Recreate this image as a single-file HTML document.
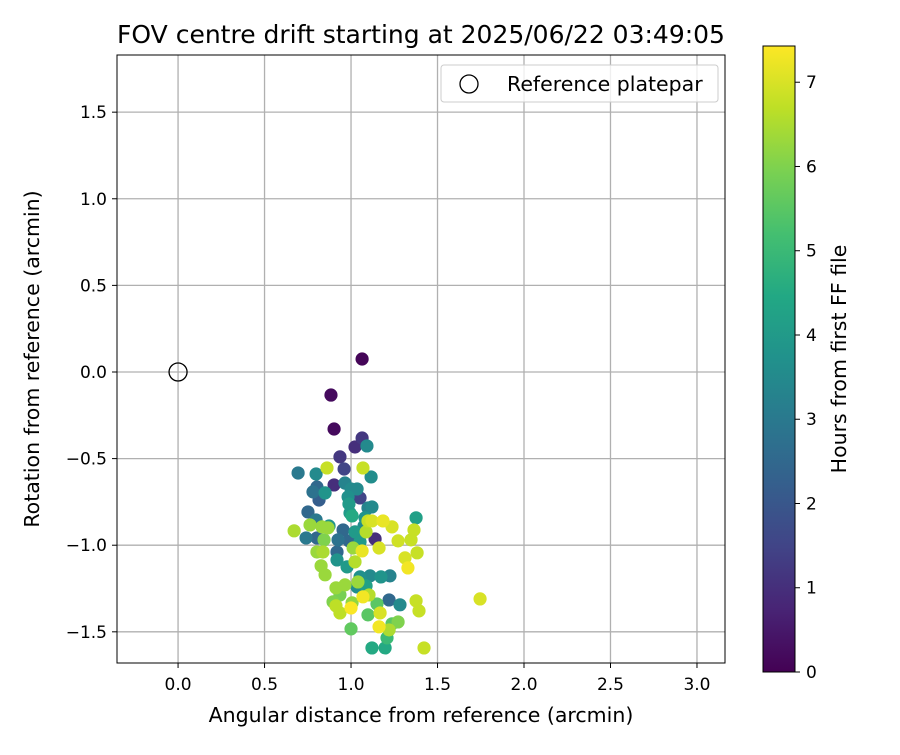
<!DOCTYPE html>
<html><head><meta charset="utf-8"><style>
body{margin:0;background:#fff}
svg{font-family:"DejaVu Sans","Liberation Sans",sans-serif}
</style></head><body>
<svg id="chart" width="900" height="750" viewBox="0 0 900 750">
<defs>
<linearGradient id="vir" x1="0" y1="1" x2="0" y2="0">
<stop offset="0" stop-color="#440154"/><stop offset="0.1" stop-color="#482475"/><stop offset="0.2" stop-color="#414487"/><stop offset="0.3" stop-color="#355f8d"/><stop offset="0.4" stop-color="#2a788e"/><stop offset="0.5" stop-color="#21918c"/><stop offset="0.6" stop-color="#22a884"/><stop offset="0.7" stop-color="#44bf70"/><stop offset="0.8" stop-color="#7ad151"/><stop offset="0.9" stop-color="#bddf26"/><stop offset="1" stop-color="#fde725"/>
</linearGradient>
<clipPath id="clip"><rect x="117" y="55" width="608" height="608"/></clipPath>
</defs>
<text x="421" y="43" text-anchor="middle" font-size="25">FOV centre drift starting at 2025/06/22 03:49:05</text>
<g id="grid"></g>
<g id="points" clip-path="url(#clip)"></g>
<rect x="117" y="55" width="608" height="608" fill="none" stroke="#000" stroke-width="1"/>
<g id="xticks"></g>
<g id="yticks"></g>
<text x="421" y="722" text-anchor="middle" font-size="20.5">Angular distance from reference (arcmin)</text>
<text transform="translate(39,359) rotate(-90)" text-anchor="middle" font-size="20.5">Rotation from reference (arcmin)</text>
<g>
<rect x="441" y="65" width="277" height="37" rx="3" fill="#fff" fill-opacity="0.8" stroke="#ccc"/>
<circle cx="469" cy="84" r="9" fill="none" stroke="#000" stroke-width="1.3"/>
<text x="507" y="91" font-size="20.5">Reference platepar</text>
</g>
<rect x="763" y="46" width="32" height="626" fill="url(#vir)" stroke="#000" stroke-width="1"/>
<g id="cticks"></g>
<text transform="translate(846,359) rotate(-90)" text-anchor="middle" font-size="20.5">Hours from first FF file</text>
</svg>
<script>
const xTicks=[0,0.5,1,1.5,2,2.5,3];
const yTicks=[-1.5,-1,-0.5,0,0.5,1,1.5];
const cTicks=[0,1,2,3,4,5,6,7];
const refX=[0];
const refY=[0];
const xs=[1.064,0.884,0.902,1.023,1.064,1.092,0.936,1.069,0.694,0.798,1.116,0.960,0.861,0.965,0.902,0.803,0.780,0.850,0.815,1.000,1.035,0.983,1.052,1.121,1.098,0.988,0.751,0.994,1.081,0.798,1.376,1.098,1.185,1.121,1.006,0.671,0.763,0.832,0.867,0.873,0.954,1.023,1.075,1.087,1.237,1.364,0.740,0.803,0.844,0.925,0.988,1.052,1.139,1.272,1.347,0.803,0.838,0.919,1.012,1.064,1.162,1.312,1.382,1.329,0.827,0.919,1.023,0.977,1.052,1.110,1.173,1.225,0.965,0.913,1.040,1.035,1.087,1.104,1.069,0.936,0.896,1.006,0.913,1.220,1.150,1.283,1.000,0.936,1.098,1.168,1.376,1.393,1.162,1.000,1.237,1.272,1.220,1.208,1.121,1.197,1.422,1.746,0.850];
const ys=[0.075,-0.133,-0.329,-0.433,-0.381,-0.427,-0.490,-0.554,-0.583,-0.589,-0.606,-0.560,-0.554,-0.641,-0.652,-0.664,-0.692,-0.698,-0.739,-0.675,-0.675,-0.721,-0.727,-0.779,-0.785,-0.762,-0.808,-0.814,-0.842,-0.854,-0.842,-0.860,-0.860,-0.860,-0.831,-0.917,-0.883,-0.894,-0.900,-0.889,-0.912,-0.923,-0.889,-0.923,-0.894,-0.912,-0.958,-0.958,-0.969,-0.969,-0.975,-0.981,-0.964,-0.975,-0.969,-1.039,-1.039,-1.039,-1.016,-1.033,-1.016,-1.073,-1.044,-1.131,-1.119,-1.085,-1.096,-1.125,-1.183,-1.177,-1.183,-1.177,-1.229,-1.246,-1.212,-1.241,-1.235,-1.287,-1.298,-1.287,-1.327,-1.333,-1.350,-1.316,-1.339,-1.344,-1.362,-1.391,-1.402,-1.391,-1.321,-1.379,-1.471,-1.483,-1.454,-1.443,-1.489,-1.535,-1.593,-1.593,-1.593,-1.310,-1.171];
const hours=[0.1,0.2,0.2,1.0,1.2,3.5,1.2,6.8,3.0,3.5,3.6,1.5,6.8,3.3,1.0,2.5,2.8,3.8,2.2,3.5,3.5,3.7,1.5,3.5,3.3,4.0,2.5,4.0,3.8,3.0,4.2,6.8,7.2,7.0,4.5,6.5,6.3,6.3,6.3,3.8,2.5,4.0,3.5,6.6,7.0,6.8,3.0,2.5,6.0,2.8,2.5,4.0,1.0,6.9,6.8,6.3,6.5,2.5,6.3,7.2,7.0,7.0,6.8,7.3,6.3,3.8,6.6,4.0,3.7,3.5,3.8,3.3,6.3,6.3,6.3,3.6,4.2,6.6,7.3,5.9,6.0,6.2,6.7,2.5,5.5,3.5,7.4,6.7,5.5,7.0,6.8,6.8,7.3,5.6,5.5,6.0,6.5,5.0,4.5,4.5,6.8,7.0,6.3];
const X0=-0.353,X1=3.162,Y0=-1.68,Y1=1.83,CMAX=7.43;
const px=v=>117+(v-X0)/(X1-X0)*608;
const py=v=>663-(v-Y0)/(Y1-Y0)*608;
const cy=v=>672-v/CMAX*626;
const vir=[[68,1,84],[72,36,117],[65,68,135],[53,95,141],[42,120,142],[33,145,140],[34,168,132],[68,191,112],[122,209,81],[189,223,38],[253,231,37]];
function color(h){let t=Math.max(0,Math.min(1,h/CMAX))*10;let i=Math.min(9,Math.floor(t));let f=t-i;let a=vir[i],b=vir[i+1];return `rgb(${a.map((c,k)=>Math.round(c+(b[k]-c)*f)).join(',')})`;}
const NS='http://www.w3.org/2000/svg';
function mk(tag,attrs,parent){const e=document.createElementNS(NS,tag);for(const k in attrs)e.setAttribute(k,attrs[k]);parent.appendChild(e);return e;}
const grid=document.getElementById('grid'),xt=document.getElementById('xticks'),yt=document.getElementById('yticks'),ct=document.getElementById('cticks'),pts=document.getElementById('points');
xTicks.forEach(v=>{const x=px(v);
const g=mk('line',{x1:x,x2:x,y1:55,y2:663,stroke:'#b0b0b0','stroke-width':1.3},grid);


const t=mk('line',{x1:x,x2:x,y1:663,y2:668,stroke:'#000'},xt);


const l=mk('text',{x:x,y:690,'text-anchor':'middle','font-size':17},xt);l.textContent=v.toFixed(1);

});
yTicks.forEach(v=>{const y=py(v);
const g=mk('line',{x1:117,x2:725,y1:y,y2:y,stroke:'#b0b0b0','stroke-width':1.3},grid);


const t=mk('line',{x1:112,x2:117,y1:y,y2:y,stroke:'#000'},yt);


const l=mk('text',{x:107,y:y+6,'text-anchor':'end','font-size':17},yt);l.textContent=(v<0?'\u2212':'')+Math.abs(v).toFixed(1);

});
cTicks.forEach(v=>{const y=cy(v);
const t=mk('line',{x1:795,x2:800,y1:y,y2:y,stroke:'#000'},ct);


const l=mk('text',{x:806,y:y+6,'font-size':17},ct);l.textContent=v;

});
const idx=xs.map((_,i)=>i).sort((a,b)=>hours[a]-hours[b]);
idx.forEach(i=>{const c=mk('circle',{cx:px(xs[i]),cy:py(ys[i]),r:6.6,fill:color(hours[i])},pts);

});
refX.forEach((v,i)=>{const c=mk('circle',{cx:px(v),cy:py(refY[i]),r:9,fill:'none',stroke:'#000','stroke-width':1.3},pts);

});
</script>
</body></html>
